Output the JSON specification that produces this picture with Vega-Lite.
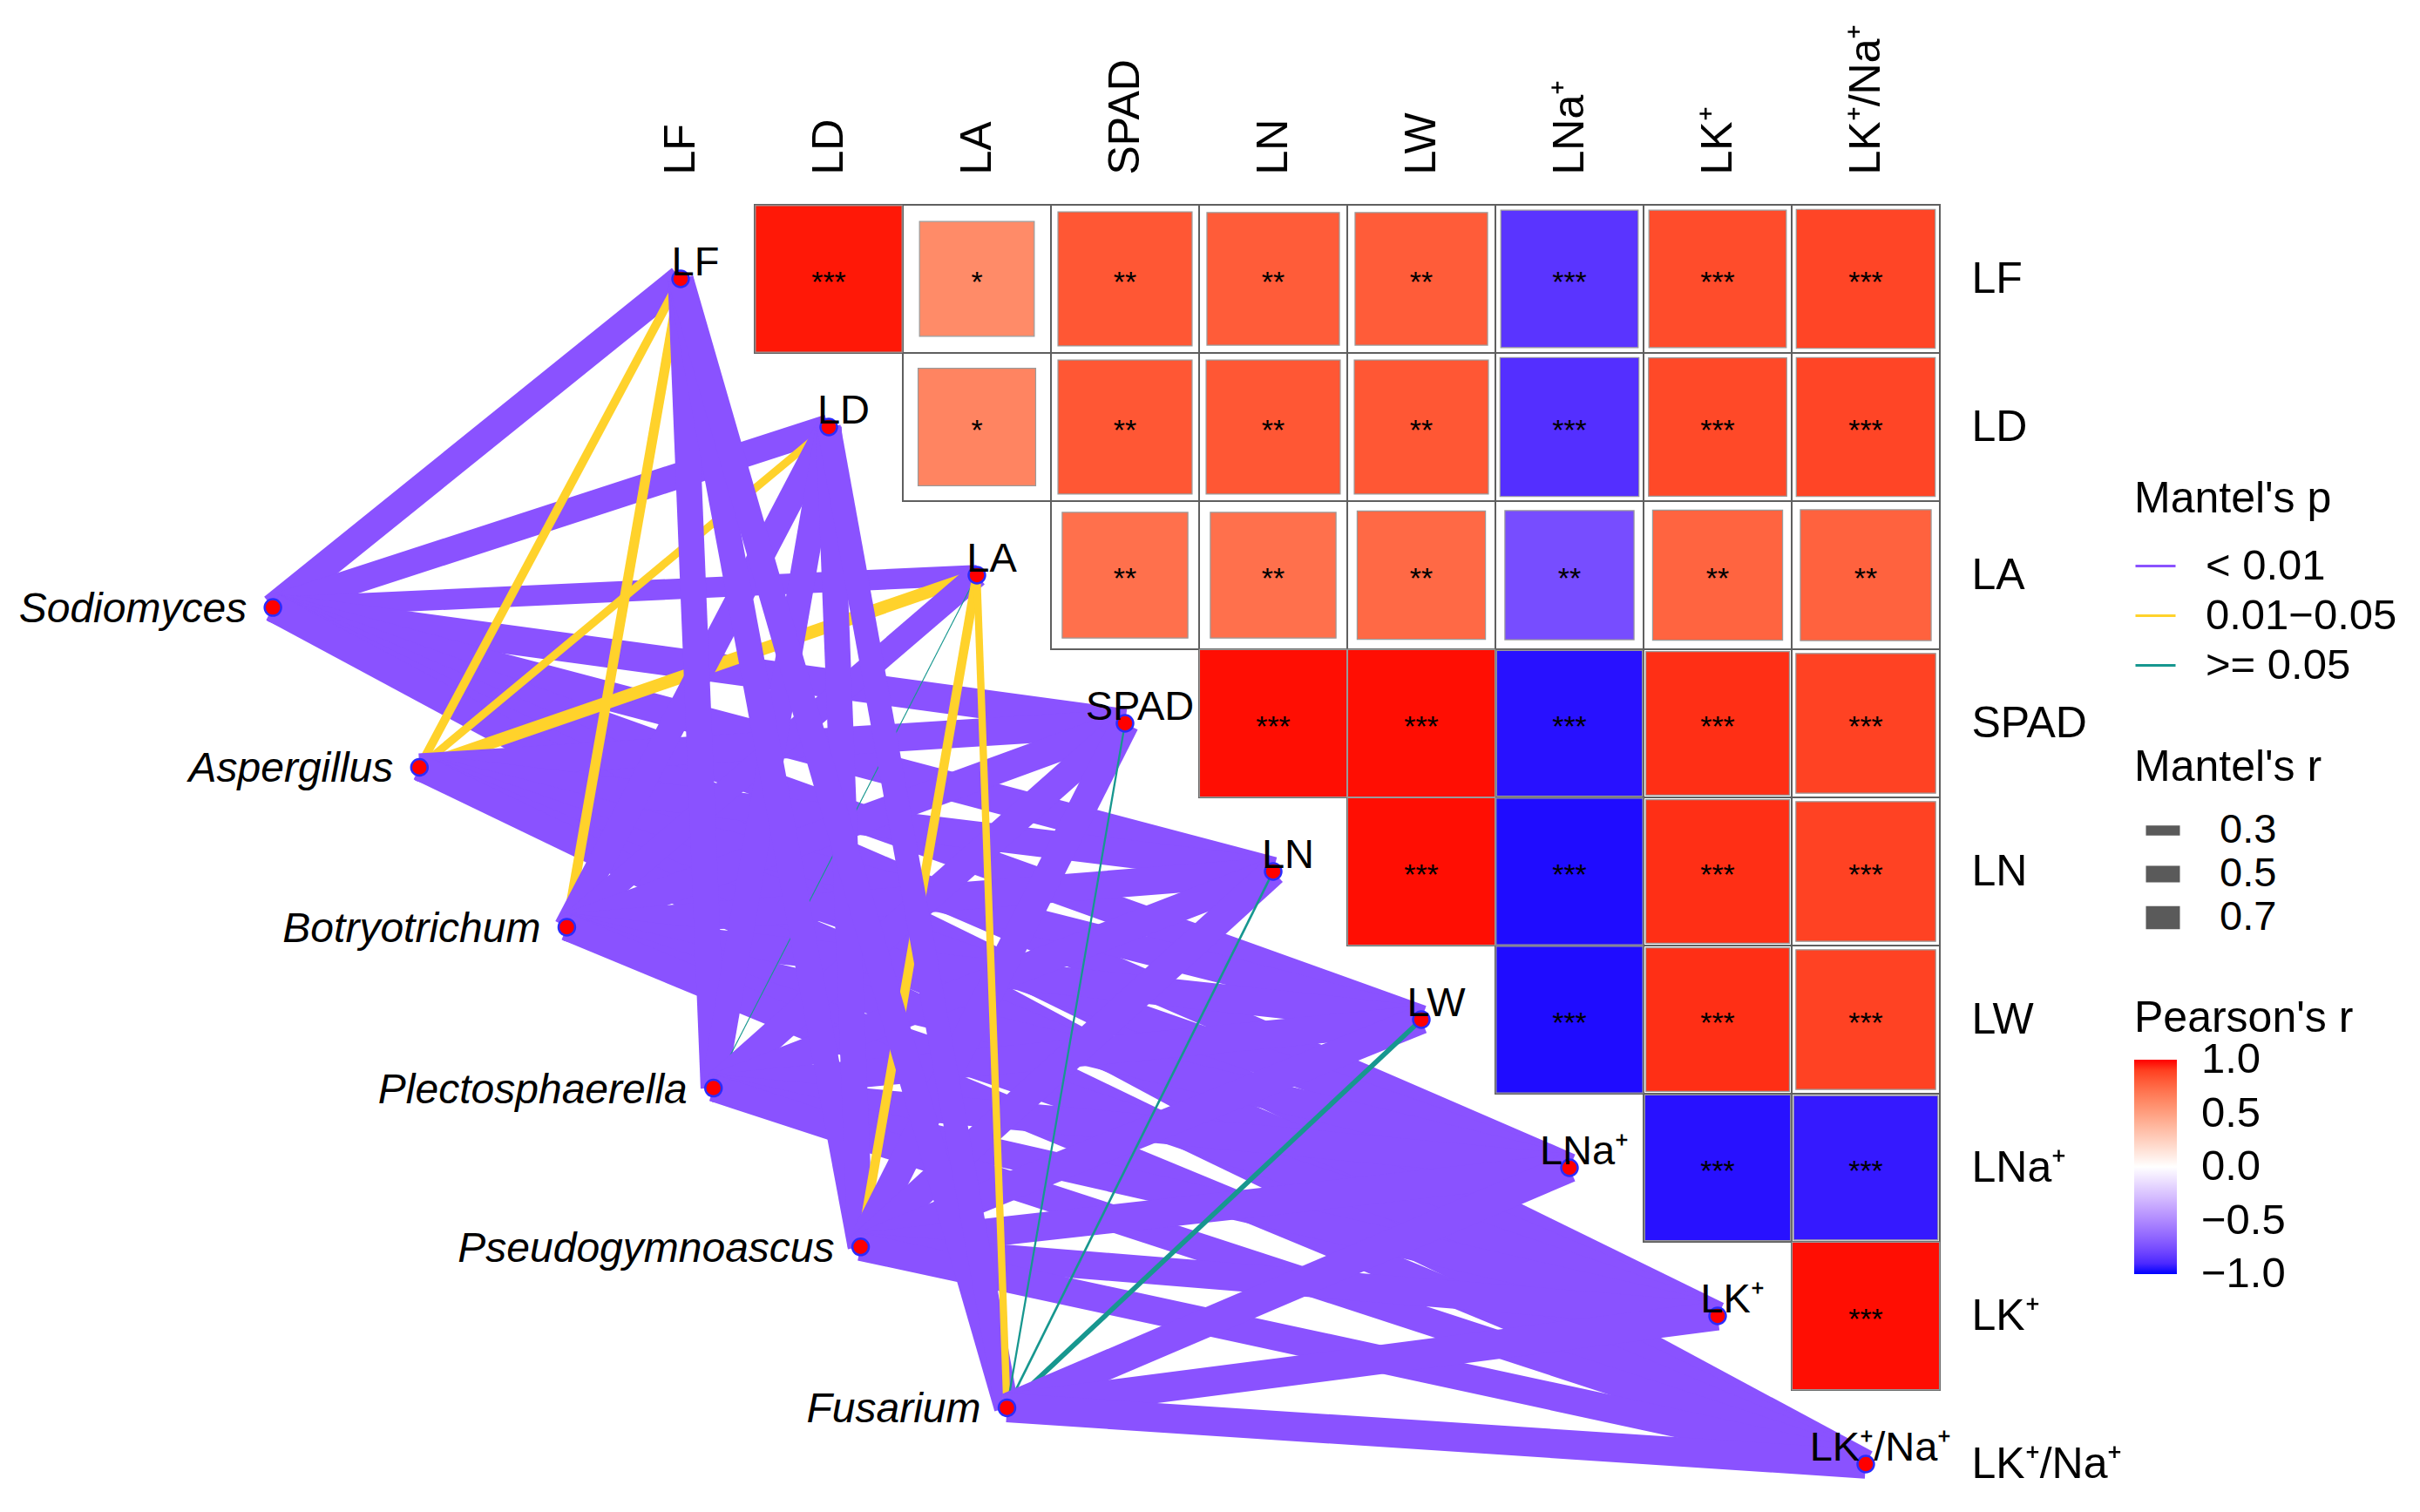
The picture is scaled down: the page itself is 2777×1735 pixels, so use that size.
{
  "$schema": "https://vega.github.io/schema/vega-lite/v6.json",
  "autosize": {"type": "none"},
  "width": 1530,
  "height": 1500,
  "padding": {"left": 696, "top": 235, "right": 551, "bottom": 0},
  "background": "white",
  "config": {
    "view": {"stroke": null},
    "font": "Liberation Sans",
    "axisX": {"orient": "top", "values": [0, 1, 2, 3, 4, 5, 6, 7, 8],
              "labelExpr": "['LF','LD','LA','SPAD','LN','LW','LNa⁺','LK⁺','LK⁺/Na⁺'][datum.value]",
              "labelAngle": 270, "labelAlign": "left", "labelBaseline": "middle", "labelPadding": 35,
              "labelFontSize": 50, "labelColor": "black", "domain": false, "ticks": false, "grid": false,
              "labelOverlap": false, "labelFlush": false, "labelLimit": 600},
    "axisY": {"orient": "right", "values": [0, 1, 2, 3, 4, 5, 6, 7, 8],
              "labelExpr": "['LF','LD','LA','SPAD','LN','LW','LNa⁺','LK⁺','LK⁺/Na⁺'][datum.value]",
              "labelAlign": "left", "labelBaseline": "middle", "labelPadding": 36,
              "labelFontSize": 50, "labelColor": "black", "domain": false, "ticks": false, "grid": false,
              "labelOverlap": false, "labelFlush": false, "labelLimit": 600},
    "legend": {"titleFontWeight": "normal", "titleColor": "black", "labelColor": "black", "titleFontSize": 50, "labelFontSize": 49, "padding": 0, "titlePadding": 22, "direction": "vertical", "titleLimit": 800, "labelLimit": 800}
  },
  "datasets": {
    "nodes": [
      {"name": "LF", "type": "env", "x": 0, "y": 0},
      {"name": "LD", "type": "env", "x": 1, "y": 1},
      {"name": "LA", "type": "env", "x": 2, "y": 2},
      {"name": "SPAD", "type": "env", "x": 3, "y": 3},
      {"name": "LN", "type": "env", "x": 4, "y": 4},
      {"name": "LW", "type": "env", "x": 5, "y": 5},
      {"name": "LNa⁺", "type": "env", "x": 6, "y": 6},
      {"name": "LK⁺", "type": "env", "x": 7, "y": 7},
      {"name": "LK⁺/Na⁺", "type": "env", "x": 8, "y": 8},
      {"name": "Sodiomyces", "type": "spec", "x": -2.752, "y": 2.218},
      {"name": "Aspergillus", "type": "spec", "x": -1.763, "y": 3.297},
      {"name": "Botryotrichum", "type": "spec", "x": -0.768, "y": 4.376},
      {"name": "Plectosphaerella", "type": "spec", "x": 0.222, "y": 5.462},
      {"name": "Pseudogymnoascus", "type": "spec", "x": 1.215, "y": 6.534},
      {"name": "Fusarium", "type": "spec", "x": 2.203, "y": 7.62}
    ],
    "cells": [
      {"row": 0, "col": 1, "pearson": 0.98, "sig": "***"},
      {"row": 0, "col": 2, "pearson": 0.60, "sig": "*"},
      {"row": 0, "col": 3, "pearson": 0.82, "sig": "**"},
      {"row": 0, "col": 4, "pearson": 0.80, "sig": "**"},
      {"row": 0, "col": 5, "pearson": 0.80, "sig": "**"},
      {"row": 0, "col": 6, "pearson": -0.86, "sig": "***"},
      {"row": 0, "col": 7, "pearson": 0.86, "sig": "***"},
      {"row": 0, "col": 8, "pearson": 0.88, "sig": "***"},
      {"row": 1, "col": 2, "pearson": 0.63, "sig": "*"},
      {"row": 1, "col": 3, "pearson": 0.82, "sig": "**"},
      {"row": 1, "col": 4, "pearson": 0.82, "sig": "**"},
      {"row": 1, "col": 5, "pearson": 0.82, "sig": "**"},
      {"row": 1, "col": 6, "pearson": -0.88, "sig": "***"},
      {"row": 1, "col": 7, "pearson": 0.87, "sig": "***"},
      {"row": 1, "col": 8, "pearson": 0.88, "sig": "***"},
      {"row": 2, "col": 3, "pearson": 0.72, "sig": "**"},
      {"row": 2, "col": 4, "pearson": 0.72, "sig": "**"},
      {"row": 2, "col": 5, "pearson": 0.75, "sig": "**"},
      {"row": 2, "col": 6, "pearson": -0.76, "sig": "**"},
      {"row": 2, "col": 7, "pearson": 0.77, "sig": "**"},
      {"row": 2, "col": 8, "pearson": 0.78, "sig": "**"},
      {"row": 3, "col": 4, "pearson": 0.99, "sig": "***"},
      {"row": 3, "col": 5, "pearson": 0.99, "sig": "***"},
      {"row": 3, "col": 6, "pearson": -0.97, "sig": "***"},
      {"row": 3, "col": 7, "pearson": 0.94, "sig": "***"},
      {"row": 3, "col": 8, "pearson": 0.89, "sig": "***"},
      {"row": 4, "col": 5, "pearson": 0.99, "sig": "***"},
      {"row": 4, "col": 6, "pearson": -0.98, "sig": "***"},
      {"row": 4, "col": 7, "pearson": 0.94, "sig": "***"},
      {"row": 4, "col": 8, "pearson": 0.89, "sig": "***"},
      {"row": 5, "col": 6, "pearson": -0.98, "sig": "***"},
      {"row": 5, "col": 7, "pearson": 0.94, "sig": "***"},
      {"row": 5, "col": 8, "pearson": 0.89, "sig": "***"},
      {"row": 6, "col": 7, "pearson": -0.97, "sig": "***"},
      {"row": 6, "col": 8, "pearson": -0.95, "sig": "***"},
      {"row": 7, "col": 8, "pearson": 0.99, "sig": "***"}
    ],
    "links": [
      {"spec": "Sodiomyces", "env": "LF", "p": "< 0.01", "mantel_r": 0.84},
      {"spec": "Sodiomyces", "env": "LD", "p": "< 0.01", "mantel_r": 0.78},
      {"spec": "Sodiomyces", "env": "LA", "p": "< 0.01", "mantel_r": 0.62},
      {"spec": "Sodiomyces", "env": "SPAD", "p": "< 0.01", "mantel_r": 0.88},
      {"spec": "Sodiomyces", "env": "LN", "p": "< 0.01", "mantel_r": 0.88},
      {"spec": "Sodiomyces", "env": "LW", "p": "< 0.01", "mantel_r": 0.88},
      {"spec": "Sodiomyces", "env": "LNa⁺", "p": "< 0.01", "mantel_r": 0.88},
      {"spec": "Sodiomyces", "env": "LK⁺", "p": "< 0.01", "mantel_r": 0.86},
      {"spec": "Sodiomyces", "env": "LK⁺/Na⁺", "p": "< 0.01", "mantel_r": 0.86},
      {"spec": "Aspergillus", "env": "LF", "p": "0.01−0.05", "mantel_r": 0.26},
      {"spec": "Aspergillus", "env": "LD", "p": "0.01−0.05", "mantel_r": 0.24},
      {"spec": "Aspergillus", "env": "LA", "p": "0.01−0.05", "mantel_r": 0.38},
      {"spec": "Aspergillus", "env": "SPAD", "p": "< 0.01", "mantel_r": 0.84},
      {"spec": "Aspergillus", "env": "LN", "p": "< 0.01", "mantel_r": 0.84},
      {"spec": "Aspergillus", "env": "LW", "p": "< 0.01", "mantel_r": 0.84},
      {"spec": "Aspergillus", "env": "LNa⁺", "p": "< 0.01", "mantel_r": 0.84},
      {"spec": "Aspergillus", "env": "LK⁺", "p": "< 0.01", "mantel_r": 0.80},
      {"spec": "Aspergillus", "env": "LK⁺/Na⁺", "p": "< 0.01", "mantel_r": 0.80},
      {"spec": "Botryotrichum", "env": "LF", "p": "0.01−0.05", "mantel_r": 0.30},
      {"spec": "Botryotrichum", "env": "LD", "p": "< 0.01", "mantel_r": 0.78},
      {"spec": "Botryotrichum", "env": "LA", "p": "< 0.01", "mantel_r": 0.72},
      {"spec": "Botryotrichum", "env": "SPAD", "p": "< 0.01", "mantel_r": 0.84},
      {"spec": "Botryotrichum", "env": "LN", "p": "< 0.01", "mantel_r": 0.84},
      {"spec": "Botryotrichum", "env": "LW", "p": "< 0.01", "mantel_r": 0.84},
      {"spec": "Botryotrichum", "env": "LNa⁺", "p": "< 0.01", "mantel_r": 0.84},
      {"spec": "Botryotrichum", "env": "LK⁺", "p": "< 0.01", "mantel_r": 0.82},
      {"spec": "Botryotrichum", "env": "LK⁺/Na⁺", "p": "< 0.01", "mantel_r": 0.82},
      {"spec": "Plectosphaerella", "env": "LF", "p": "< 0.01", "mantel_r": 0.78},
      {"spec": "Plectosphaerella", "env": "LD", "p": "< 0.01", "mantel_r": 0.78},
      {"spec": "Plectosphaerella", "env": "LA", "p": ">= 0.05", "mantel_r": 0.03},
      {"spec": "Plectosphaerella", "env": "SPAD", "p": "< 0.01", "mantel_r": 0.84},
      {"spec": "Plectosphaerella", "env": "LN", "p": "< 0.01", "mantel_r": 0.84},
      {"spec": "Plectosphaerella", "env": "LW", "p": "< 0.01", "mantel_r": 0.84},
      {"spec": "Plectosphaerella", "env": "LNa⁺", "p": "< 0.01", "mantel_r": 0.84},
      {"spec": "Plectosphaerella", "env": "LK⁺", "p": "< 0.01", "mantel_r": 0.82},
      {"spec": "Plectosphaerella", "env": "LK⁺/Na⁺", "p": "< 0.01", "mantel_r": 0.82},
      {"spec": "Pseudogymnoascus", "env": "LF", "p": "< 0.01", "mantel_r": 0.78},
      {"spec": "Pseudogymnoascus", "env": "LD", "p": "< 0.01", "mantel_r": 0.78},
      {"spec": "Pseudogymnoascus", "env": "LA", "p": "0.01−0.05", "mantel_r": 0.28},
      {"spec": "Pseudogymnoascus", "env": "SPAD", "p": "< 0.01", "mantel_r": 0.86},
      {"spec": "Pseudogymnoascus", "env": "LN", "p": "< 0.01", "mantel_r": 0.86},
      {"spec": "Pseudogymnoascus", "env": "LW", "p": "< 0.01", "mantel_r": 0.86},
      {"spec": "Pseudogymnoascus", "env": "LNa⁺", "p": "< 0.01", "mantel_r": 0.86},
      {"spec": "Pseudogymnoascus", "env": "LK⁺", "p": "< 0.01", "mantel_r": 0.84},
      {"spec": "Pseudogymnoascus", "env": "LK⁺/Na⁺", "p": "< 0.01", "mantel_r": 0.84},
      {"spec": "Fusarium", "env": "LF", "p": "< 0.01", "mantel_r": 0.78},
      {"spec": "Fusarium", "env": "LD", "p": "< 0.01", "mantel_r": 0.72},
      {"spec": "Fusarium", "env": "LA", "p": "0.01−0.05", "mantel_r": 0.22},
      {"spec": "Fusarium", "env": "SPAD", "p": ">= 0.05", "mantel_r": 0.06},
      {"spec": "Fusarium", "env": "LN", "p": ">= 0.05", "mantel_r": 0.07},
      {"spec": "Fusarium", "env": "LW", "p": ">= 0.05", "mantel_r": 0.15},
      {"spec": "Fusarium", "env": "LNa⁺", "p": "< 0.01", "mantel_r": 0.88},
      {"spec": "Fusarium", "env": "LK⁺", "p": "< 0.01", "mantel_r": 0.88},
      {"spec": "Fusarium", "env": "LK⁺/Na⁺", "p": "< 0.01", "mantel_r": 0.88}
    ]
  },
  "layer": [
    {
      "data": {"name": "cells"},
      "mark": {"type": "square", "size": 28900, "fill": "white", "stroke": "#5f5f5f", "strokeWidth": 2, "opacity": 1},
      "encoding": {
        "x": {"field": "col", "type": "quantitative", "title": null, "scale": {"domain": [-0.5, 8.5], "nice": false, "zero": false}},
        "y": {"field": "row", "type": "quantitative", "title": null, "scale": {"domain": [-0.5, 8.3235], "nice": false, "zero": false, "reverse": true}}
      }
    },
    {
      "data": {"name": "cells"},
      "mark": {"type": "square", "stroke": "#9a9a9a", "strokeWidth": 1.2, "opacity": 1},
      "encoding": {
        "x": {"field": "col", "type": "quantitative", "title": null, "scale": {"domain": [-0.5, 8.5], "nice": false, "zero": false}},
        "y": {"field": "row", "type": "quantitative", "title": null, "scale": {"domain": [-0.5, 8.3235], "nice": false, "zero": false, "reverse": true}},
        "size": {"field": "pearson", "type": "quantitative", "legend": null, "scale": {"domain": [1, 0, -1], "range": [28900, 0, 28900]}},
        "fill": {"field": "pearson", "type": "quantitative",
                 "scale": {"domain": [-1, 0, 1], "range": ["#0000FF", "#FFFFFF", "#FF0000"], "interpolate": "lab"},
                 "legend": {"title": "Pearson's r", "orient": "none", "legendX": 1753, "legendY": 909, "type": "gradient",
                            "gradientLength": 246, "gradientThickness": 49, "values": [1, 0.5, 0, -0.5, -1], "format": ".1f",
                            "labelOffset": 28, "labelBaseline": "middle", "gradientStrokeWidth": 0, "labelOverlap": false,
                            "encoding": {"labels": {"baseline": {"value": "middle"}}}}}
      }
    },
    {
      "data": {"name": "cells"},
      "mark": {"type": "text", "fontSize": 34, "baseline": "middle", "align": "center", "dy": 5, "color": "black"},
      "encoding": {
        "x": {"field": "col", "type": "quantitative", "title": null, "scale": {"domain": [-0.5, 8.5], "nice": false, "zero": false}},
        "y": {"field": "row", "type": "quantitative", "title": null, "scale": {"domain": [-0.5, 8.3235], "nice": false, "zero": false, "reverse": true}},
        "text": {"field": "sig"}
      }
    },
    {
      "data": {"name": "links"},
      "transform": [
        {"lookup": "spec", "from": {"data": {"name": "nodes"}, "key": "name", "fields": ["x", "y"]}, "as": ["sx", "sy"]},
        {"lookup": "env", "from": {"data": {"name": "nodes"}, "key": "name", "fields": ["x", "y"]}, "as": ["ex", "ey"]}
      ],
      "mark": {"type": "rule", "strokeCap": "butt", "opacity": 1},
      "encoding": {
        "x": {"field": "sx", "type": "quantitative", "title": null, "scale": {"domain": [-0.5, 8.5], "nice": false, "zero": false}},
        "y": {"field": "sy", "type": "quantitative", "title": null, "scale": {"domain": [-0.5, 8.3235], "nice": false, "zero": false, "reverse": true}},
        "x2": {"field": "ex"},
        "y2": {"field": "ey"},
        "stroke": {"field": "p", "type": "nominal",
                   "scale": {"domain": ["< 0.01", "0.01−0.05", ">= 0.05"], "range": ["#8A52FF", "#FFD22B", "#17978F"]},
                   "legend": {"title": "Mantel's p", "orient": "none", "legendX": 1753, "legendY": 313, "symbolType": "stroke",
                              "symbolSize": 2116, "symbolStrokeWidth": 3, "rowPadding": 7, "titlePadding": 27, "labelOffset": 33}},
        "strokeWidth": {"field": "mantel_r", "type": "quantitative",
                        "scale": {"domain": [0, 1], "range": [0, 38]},
                        "legend": {"title": "Mantel's r", "orient": "none", "legendX": 1753, "legendY": 621, "values": [0.3, 0.5, 0.7],
                                   "format": ".1f", "symbolType": "stroke", "symbolSize": 1521, "symbolStrokeColor": "#5a5a5a",
                                   "rowPadding": 0, "clipHeight": 50, "labelFontSize": 47, "labelOffset": 32}}
      }
    },
    {
      "data": {"name": "nodes"},
      "mark": {"type": "point", "shape": "circle", "filled": true, "size": 360, "fill": "#FF0000", "stroke": "#2B2BFF", "strokeWidth": 2.5, "opacity": 1},
      "encoding": {
        "x": {"field": "x", "type": "quantitative", "title": null, "scale": {"domain": [-0.5, 8.5], "nice": false, "zero": false}},
        "y": {"field": "y", "type": "quantitative", "title": null, "scale": {"domain": [-0.5, 8.3235], "nice": false, "zero": false, "reverse": true}}
      }
    },
    {
      "data": {"name": "nodes"},
      "transform": [{"filter": "datum.type === 'env'"}],
      "mark": {"type": "text", "fontSize": 47, "align": "center", "baseline": "alphabetic", "dx": 17, "dy": -4, "color": "black"},
      "encoding": {
        "x": {"field": "x", "type": "quantitative", "title": null, "scale": {"domain": [-0.5, 8.5], "nice": false, "zero": false}},
        "y": {"field": "y", "type": "quantitative", "title": null, "scale": {"domain": [-0.5, 8.3235], "nice": false, "zero": false, "reverse": true}},
        "text": {"field": "name"}
      }
    },
    {
      "data": {"name": "nodes"},
      "transform": [{"filter": "datum.type === 'spec'"}],
      "mark": {"type": "text", "fontSize": 48, "fontStyle": "italic", "align": "right", "baseline": "alphabetic", "dx": -30, "dy": 17, "color": "black"},
      "encoding": {
        "x": {"field": "x", "type": "quantitative", "title": null, "scale": {"domain": [-0.5, 8.5], "nice": false, "zero": false}},
        "y": {"field": "y", "type": "quantitative", "title": null, "scale": {"domain": [-0.5, 8.3235], "nice": false, "zero": false, "reverse": true}},
        "text": {"field": "name"}
      }
    }
  ]
}
